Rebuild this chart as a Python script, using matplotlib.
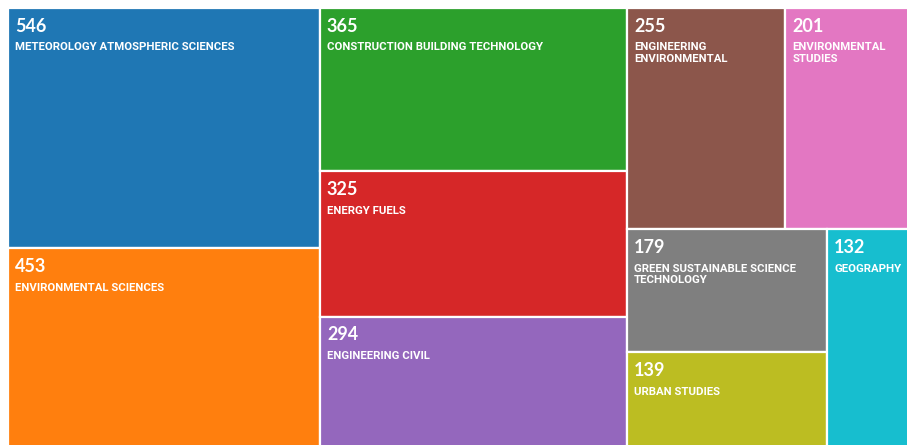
import matplotlib.pyplot as plt
from matplotlib.patches import Rectangle

# Treemap of record counts per category
counts = [546, 453, 365, 325, 294, 255, 201, 179, 139, 132]
categories = ["METEOROLOGY ATMOSPHERIC SCIENCES", "ENVIRONMENTAL SCIENCES",
              "CONSTRUCTION BUILDING TECHNOLOGY", "ENERGY FUELS", "ENGINEERING CIVIL",
              "ENGINEERING\nENVIRONMENTAL", "ENVIRONMENTAL\nSTUDIES",
              "GREEN SUSTAINABLE SCIENCE\nTECHNOLOGY", "URBAN STUDIES", "GEOGRAPHY"]
colors = ['#1f77b4', '#ff7f0e', '#2ca02c', '#d62728', '#9467bd',
          '#8c564b', '#e377c2', '#7f7f7f', '#bcbd22', '#17becf']

RATIO = 0.5 * (1 + 5 ** 0.5)


def worst(row, fixed):
    s = sum(row)
    f = fixed * fixed * RATIO
    return max(f * max(row) / s ** 2, s ** 2 / (f * min(row)))


def place(row, fixed, rect, flush):
    horizontal = fixed == rect[2]
    thick = sum(row) / fixed
    other = rect[3] if horizontal else rect[2]
    if flush or thick > other:
        thick = other
    out = []
    pos = rect[0] if horizontal else rect[1]
    for a in row:
        step = a / thick
        if horizontal:
            out.append((pos, rect[1], step, thick))
        else:
            out.append((rect[0], pos, thick, step))
        pos += step
    if horizontal:
        rect[1] += thick
        rect[3] -= thick
    else:
        rect[0] += thick
        rect[2] -= thick
    return out


def squarify(values, x, y, w, h):
    total = sum(values)
    areas = [v * w * h / total for v in values]
    rect = [x, y, w, h]
    fixed = min(w, h)
    rects, row, best, i = [], [], float('inf'), 0
    while i < len(areas):
        row.append(areas[i])
        score = worst(row, fixed)
        if score <= best:
            best = score
            i += 1
        else:
            row.pop()
            rects += place(row, fixed, rect, False)
            fixed = min(rect[2], rect[3])
            row, best = [], float('inf')
    if row:
        rects += place(row, fixed, rect, True)
    return rects


fig = plt.figure(figsize=(9.07, 4.45), dpi=100)
ax = fig.add_axes([0, 0, 1, 1])
ax.set_xlim(0, 907)
ax.set_ylim(445, 0)
ax.axis('off')

rects = squarify(counts, 8, 8, 902, 440)

for (x, y, w, h), n, name, c in zip(rects, counts, categories, colors):
    ax.add_patch(Rectangle((x, y), w, h, facecolor=c, edgecolor='white', linewidth=1.6))
    ax.text(x + 7, y + 9.5, str(n), color='white', fontsize=13, fontweight='bold',
            family=['Lato', 'DejaVu Sans'], va='top', ha='left', clip_on=True)
    ax.text(x + 7, y + 34.5, name, color='white', fontsize=8.2, fontweight='bold',
            family=['Roboto', 'DejaVu Sans'], va='top', ha='left',
            linespacing=1.15, clip_on=True)

plt.savefig('out.png', dpi=100)
